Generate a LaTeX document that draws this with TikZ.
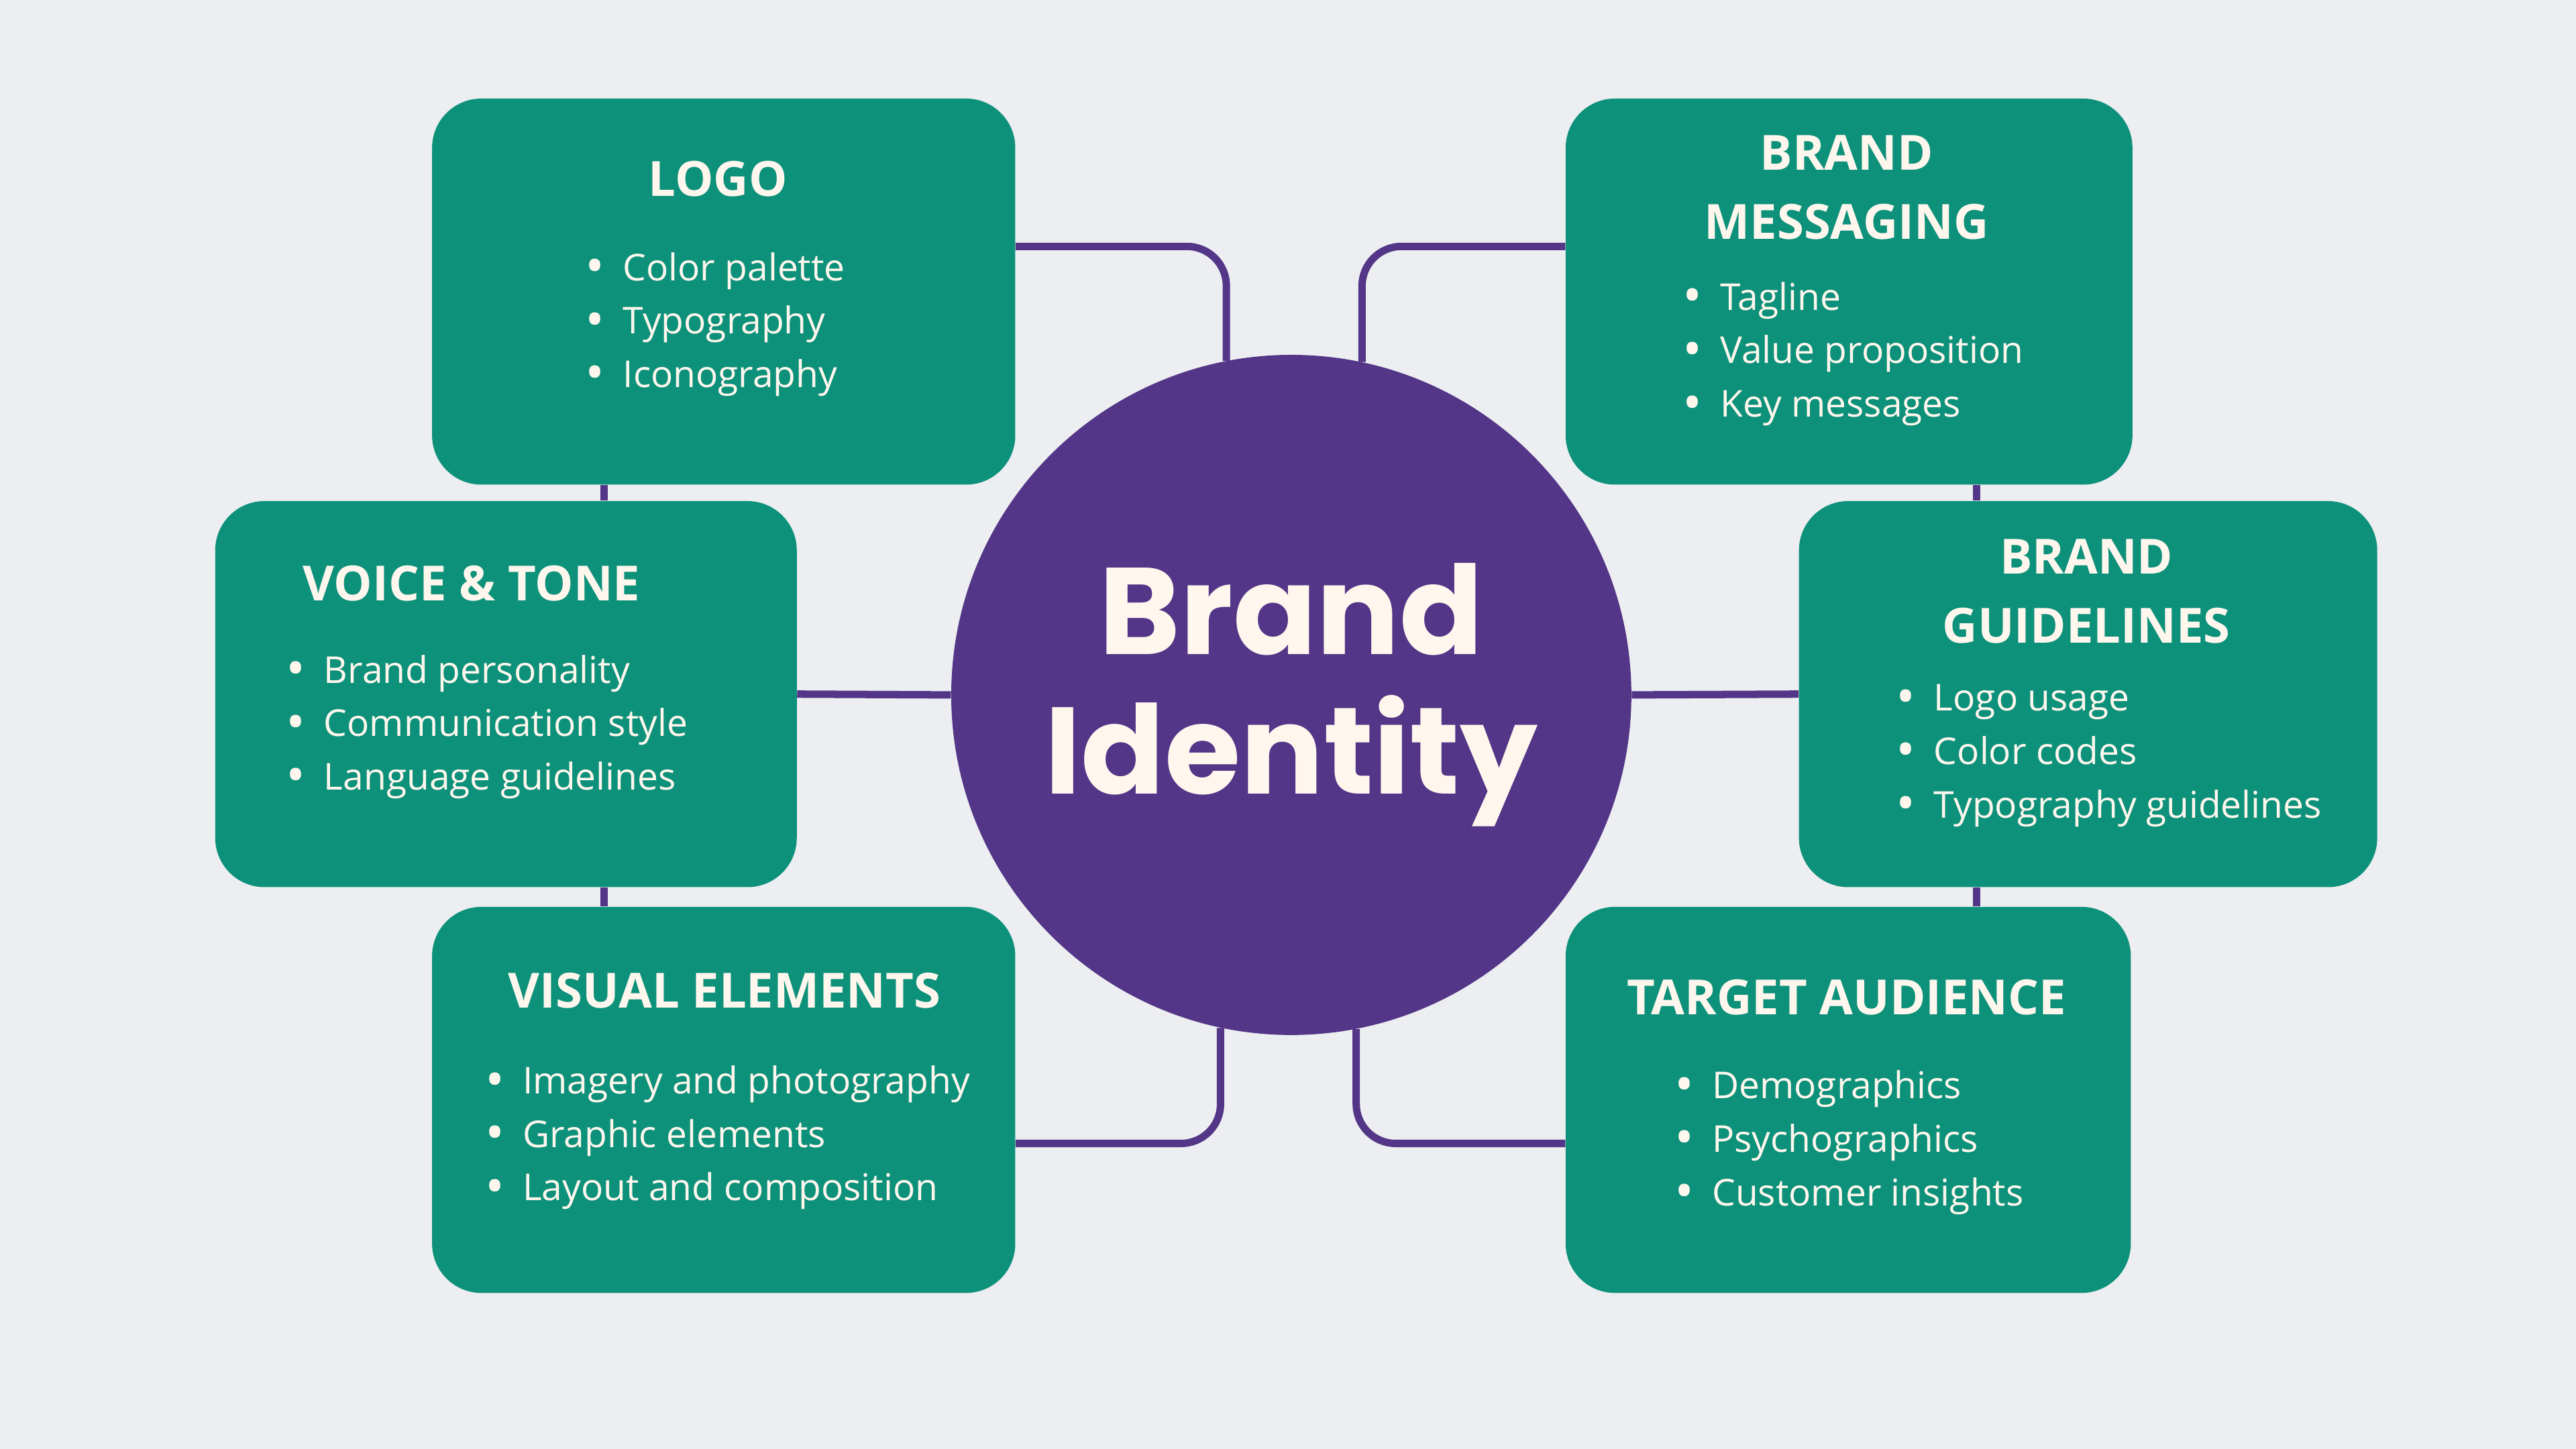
\documentclass[tikz,border=0pt]{standalone}
\usepackage{fontspec}
\setmainfont{Open Sans}
\newfontfamily\brandfont{Poppins}
\usepackage{xcolor}
\usetikzlibrary{positioning}
\definecolor{pagebg}{HTML}{ECEEF1}
\definecolor{boxteal}{HTML}{0E917A}
\definecolor{corepurple}{HTML}{533687}
\definecolor{cream}{HTML}{FFF7EE}
\newcommand\bul{\makebox[34pt][c]{\raisebox{-0.1em}{\scalebox{1.4}{\textbullet}}}}
\pgfdeclarelayer{back}
\pgfdeclarelayer{links}
\pgfsetlayers{back,links,main}

\begin{document}
\begin{tikzpicture}[x=1pt, y=-1pt,
  topic/.style={rectangle, rounded corners=30pt, fill=boxteal,
    minimum height=235pt, inner sep=0pt},
  ttl/.style={font=\fontsize{29.5}{42}\selectfont\bfseries, text=cream,
    align=center, inner sep=0pt},
  itemlist/.style={font=\fontsize{22.5}{32.5}\selectfont, text=cream,
    align=left, anchor=north west, inner sep=0pt},
  link/.style={draw=corepurple, line width=4.5pt, rounded corners=24pt},
  core/.style={circle, fill=corepurple, minimum size=414pt, inner sep=0pt,
    text=cream, align=center,
    font=\brandfont\fontsize{75}{85}\selectfont\bfseries}]
% ---- page ----
\begin{pgfonlayer}{back}
\fill[pagebg] (0,0) rectangle (1568,882);
\end{pgfonlayer}
\useasboundingbox (0,0) rectangle (1568,882);
% ---- centre ----
\node[core] (core) at (786,423) {Brand\\Identity};
% ---- left column ----
\node[topic, minimum width=355pt] (logo) at (440.5,177.5) {};
\node[ttl] (logo-t) at (437,109) {LOGO};
\node[itemlist] (logo-l) at (345,153.5)
  {\bul Color palette\\ \bul Typography\\ \bul Iconography};
\node[topic, minimum width=354pt] (voice) at (308,422.5) {};
\node[ttl] (voice-t) at (287,355) {VOICE \& TONE};
\node[itemlist] (voice-l) at (163,398.5)
  {\bul Brand personality\\ \bul Communication style\\ \bul Language guidelines};
\node[topic, minimum width=355pt] (visual) at (440.5,669.5) {};
\node[ttl] (visual-t) at (441,603) {VISUAL ELEMENTS};
\node[itemlist] (visual-l) at (284,648.5)
  {\bul Imagery and photography\\ \bul Graphic elements\\ \bul Layout and composition};
% ---- right column ----
\node[topic, minimum width=345pt] (msg) at (1125.5,177.5) {};
\node[ttl] (msg-t) at (1124,114) {BRAND\\MESSAGING};
\node[itemlist] (msg-l) at (1013,171.5)
  {\bul Tagline\\ \bul Value proposition\\ \bul Key messages};
\node[topic, minimum width=352pt] (guide) at (1271,422.5) {};
\node[ttl] (guide-t) at (1270,360) {BRAND\\GUIDELINES};
\node[itemlist] (guide-l) at (1143,416.5)
  {\bul Logo usage\\ \bul Color codes\\ \bul Typography guidelines};
\node[topic, minimum width=344pt] (target) at (1125,669.5) {};
\node[ttl] (target-t) at (1124,607) {TARGET AUDIENCE};
\node[itemlist] (target-l) at (1008,651.5)
  {\bul Demographics\\ \bul Psychographics\\ \bul Customer insights};
% ---- connectors ----
\begin{pgfonlayer}{links}
\draw[link] ([yshift=27.5pt]logo.east) -| (core.101.4);
\draw[link] ([yshift=27.5pt]msg.west) -| (core.78.6);
\draw[link] ([yshift=-26.5pt]visual.east) -| (core.258.6);
\draw[link] ([yshift=-26.5pt]target.west) -| (core.281.4);
\draw[link] (voice.east) -- (core.west);
\draw[link] (core.east) -- (guide.west);
% short links between stacked boxes
\draw[link] ([xshift=105pt]logo.south west) -- ([xshift=105pt]logo.south west |- voice.north);
\draw[link] ([xshift=105pt]visual.north west) -- ([xshift=105pt]visual.north west |- voice.south);
\draw[link] ([xshift=-95pt]msg.south east) -- ([xshift=-95pt]msg.south east |- guide.north);
\draw[link] ([xshift=-94pt]target.north east) -- ([xshift=-94pt]target.north east |- guide.south);
\end{pgfonlayer}
\end{tikzpicture}
\end{document}
